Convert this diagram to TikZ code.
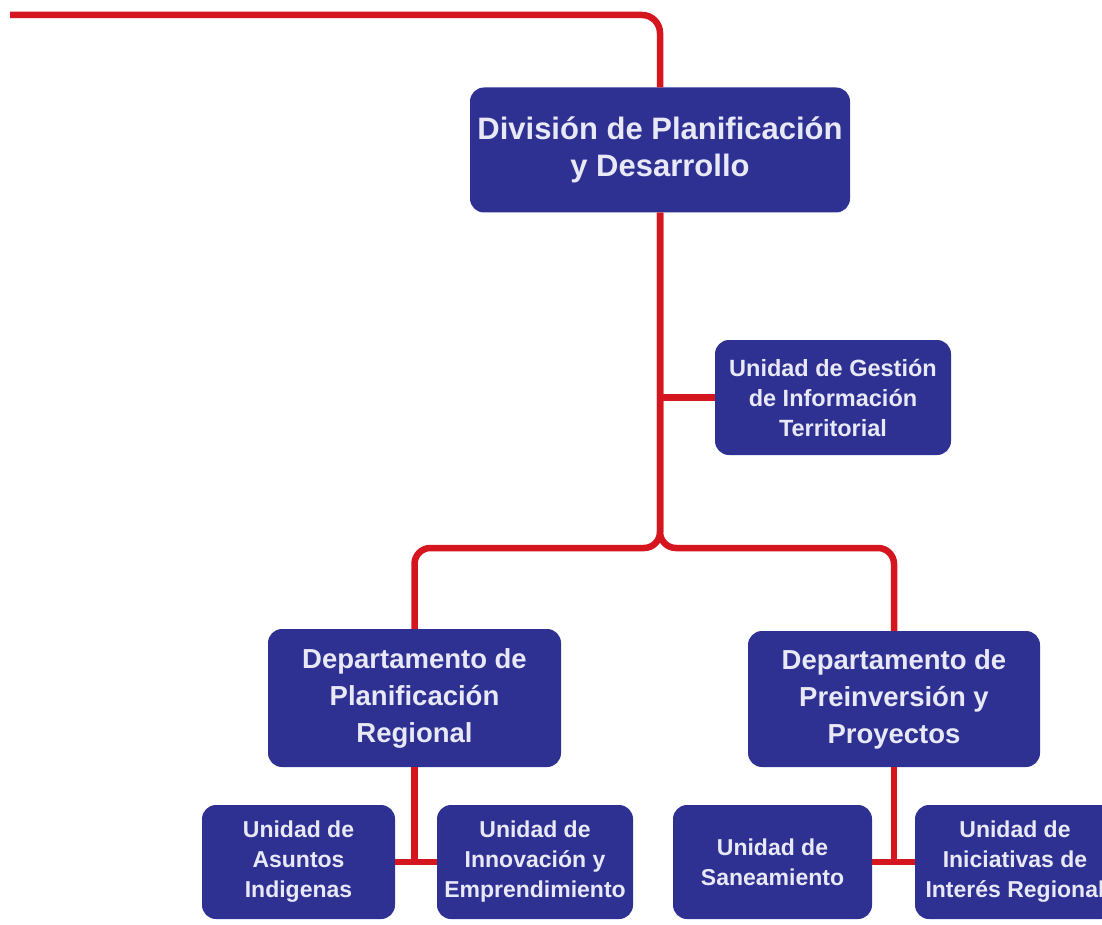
\documentclass[tikz,border=0pt]{standalone}
\usepackage{fontspec}
\setmainfont{Liberation Sans}
\definecolor{boxblue}{RGB}{46,49,146}
\definecolor{linkred}{RGB}{214,22,30}
\definecolor{txt}{RGB}{232,232,246}
\begin{document}
\begin{tikzpicture}[x=1pt,y=-1pt,
  box/.style={rectangle, rounded corners=14pt, fill=boxblue, text=txt, align=center, inner sep=0pt, font=\bfseries},
  big/.style={box, font=\fontsize{31}{37}\selectfont\bfseries},
  dept/.style={box, font=\fontsize{27.5}{37}\selectfont\bfseries},
  mid/.style={box, font=\fontsize{23.5}{30}\selectfont\bfseries},
  small/.style={box, font=\fontsize{23}{30}\selectfont\bfseries},
  link/.style={draw=linkred, line width=6.5pt}]
\useasboundingbox[fill=white] (0,0) rectangle (1102,925);
% nodes
\node[big, minimum width=380pt, minimum height=125pt] (div) at (660,150) {División de Planificación\\y Desarrollo};
\node[mid, minimum width=236pt, minimum height=115pt] (gest) at (833,397.5) {Unidad de Gestión\\de Información\\Territorial};
\node[dept, minimum width=293pt, minimum height=138pt] (dpr) at (414.5,698) {Departamento de\\Planificación\\Regional};
\node[dept, minimum width=292pt, minimum height=136pt] (dpp) at (894,699) {Departamento de\\Preinversión y\\Proyectos};
\node[small, minimum width=193pt, minimum height=114pt] (asu) at (298.5,862) {Unidad de\\Asuntos\\Indigenas};
\node[small, minimum width=196pt, minimum height=114pt] (inn) at (535,862) {Unidad de\\Innovación y\\Emprendimiento};
\node[small, minimum width=199pt, minimum height=114pt] (san) at (772.5,862) {Unidad de\\Saneamiento};
\node[small, minimum width=200pt, minimum height=114pt] (ini) at (1015,862) {Unidad de\\Iniciativas de\\Interés Regional};
\coordinate (topstart) at (10,15);
\coordinate (split) at (div.south |- 0,548);
% connectors
\begin{scope}[on background layer/.style={}]
\draw[link, rounded corners=18pt] (topstart) -| (div.north);
\draw[link, rounded corners=16pt] (div.south) -- (split) -| (dpr.north);
\draw[link, rounded corners=16pt] (div.south) -- (split) -| (dpp.north);
\draw[link] (gest.west) -- (gest.west -| div.south);
\draw[link] (dpr.south) -- (dpr.south |- asu.east);
\draw[link] (asu.east) -- (inn.west);
\draw[link] (dpp.south) -- (dpp.south |- san.east);
\draw[link] (san.east) -- (ini.west);
\end{scope}
\end{tikzpicture}
\end{document}
